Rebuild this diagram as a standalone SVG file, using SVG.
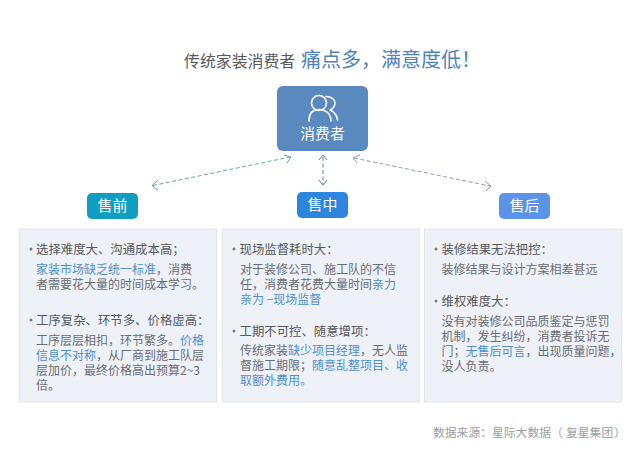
<svg xmlns="http://www.w3.org/2000/svg" width="640" height="456" viewBox="0 0 640 456">
<style>
text{font-family:"Noto Sans CJK SC","Liberation Sans",sans-serif}
.h{font-size:12.4px;fill:#55585c}
.b{font-size:12px;fill:#6a6d72}
.a{fill:#4f8fd0}
.p{fill:#eef1f7;stroke:#e2e5ea;stroke-width:1}
.dot{fill:#777b80}
.tag{font-size:15px;fill:#fff;text-anchor:middle}
.c{fill:none;stroke-width:1;stroke-dasharray:4 2.5}
.hd{fill:none;stroke-width:1}
</style>
<rect width="640" height="456" fill="#fff"/>
<g id="title"><text x="184" y="67" font-size="15.9" fill="#55585c">传统家装消费者</text><text x="301" y="67" font-size="20" fill="#4f83bd">痛点多，满意度低！</text></g>
<g id="consumer">
<rect x="277" y="86" width="91" height="65" rx="6" fill="#5a89bf"/>
<g fill="none" stroke="#fff" stroke-width="1.6" stroke-linecap="round">
<circle cx="319" cy="103" r="7.5"/>
<path d="M309 121C309 113 313 109.500 319 109.500C325 109.500 331 113 331 121"/>
<path d="M326 96.500C332 96.500 335 100 335 103C335 106 333 108.500 330.500 110C334 112 337 115 337.500 120"/>
</g>
<text x="322.500" y="139" font-size="14.800" fill="#fff" text-anchor="middle">消费者</text>
</g>
<g id="connectors">
<g stroke="#5fa3b5"><path class="c" d="M153 185.500L290 157"/><path class="hd" d="M158 180L152 185.500L158 190M284 155L291 157L287 163"/></g>
<g stroke="#5a7fa8"><path class="c" d="M323 157V184"/><path class="hd" d="M319 160L323 155L327 160M319 180L323 185L327 180"/></g>
<g stroke="#8d9bc4"><path class="c" d="M354 158L490 186"/><path class="hd" d="M360 155L353 158L357 163M485 181L491 186L486 191"/></g>
</g>
<g id="pre"><rect x="87" y="193" width="51" height="26" rx="5" fill="#0e9fc0"/><text class="tag" x="112.500" y="211">售前</text></g>
<g id="mid"><rect x="297" y="192" width="51" height="26" rx="5" fill="#2c86de"/><text class="tag" x="322.500" y="210">售中</text></g>
<g id="post"><rect x="499" y="193" width="51" height="26" rx="5" fill="#5a93e8"/><text class="tag" x="524.500" y="211">售后</text></g>
<g id="panel-pre">
<rect class="p" x="19.500" y="229" width="197" height="173"/>
<circle class="dot" cx="31" cy="249" r="1.500"/>
<text class="h" x="36" y="254">选择难度大、沟通成本高；</text>
<text class="b" x="36" y="274"><tspan class="a">家装市场缺乏统一标准</tspan>，消费</text>
<text class="b" x="36" y="289">者需要花大量的时间成本学习。</text>
<circle class="dot" cx="31" cy="320" r="1.500"/>
<text class="h" x="36" y="325">工序复杂、环节多、价格虚高：</text>
<text class="b" x="36" y="345">工序层层相扣，环节繁多。<tspan class="a">价格</tspan></text>
<text class="b" x="36" y="360"><tspan class="a">信息不对称</tspan>，从厂商到施工队层</text>
<text class="b" x="36" y="375">层加价，最终价格高出预算2~3</text>
<text class="b" x="36" y="390">倍。</text>
</g>
<g id="panel-mid">
<rect class="p" x="222.500" y="229" width="197" height="173"/>
<circle class="dot" cx="234" cy="249" r="1.500"/>
<text class="h" x="239.500" y="254">现场监督耗时大：</text>
<text class="b" x="240" y="274">对于装修公司、施工队的不信</text>
<text class="b" x="240" y="289">任，消费者花费大量时间<tspan class="a">亲力</tspan></text>
<text class="b a" x="240" y="304">亲为 −现场监督</text>
<circle class="dot" cx="234" cy="331" r="1.500"/>
<text class="h" x="239.500" y="336">工期不可控、随意增项：</text>
<text class="b" x="240" y="355">传统家装<tspan class="a">缺少项目经理</tspan>，无人监</text>
<text class="b" x="240" y="370">督施工期限；<tspan class="a">随意乱整项目、收</tspan></text>
<text class="b a" x="240" y="385">取额外费用。</text>
</g>
<g id="panel-post">
<rect class="p" x="424.500" y="229" width="197" height="173"/>
<circle class="dot" cx="436" cy="249" r="1.500"/>
<text class="h" x="441.500" y="254">装修结果无法把控：</text>
<text class="b" x="441.500" y="274">装修结果与设计方案相差甚远</text>
<circle class="dot" cx="436" cy="301" r="1.500"/>
<text class="h" x="441.500" y="306">维权难度大：</text>
<text class="b" x="441.500" y="326">没有对装修公司品质鉴定与惩罚</text>
<text class="b" x="441.500" y="341">机制，发生纠纷，消费者投诉无</text>
<text class="b" x="441.500" y="356">门；<tspan class="a">无售后可言</tspan>，出现质量问题，</text>
<text class="b" x="441.500" y="371">没人负责。</text>
</g>
<g id="source"><text x="433" y="437" font-size="11.800" fill="#9a9da1">数据来源：星际大数据（<tspan x="566">复星集团</tspan><tspan x="614">）</tspan></text></g>
</svg>
